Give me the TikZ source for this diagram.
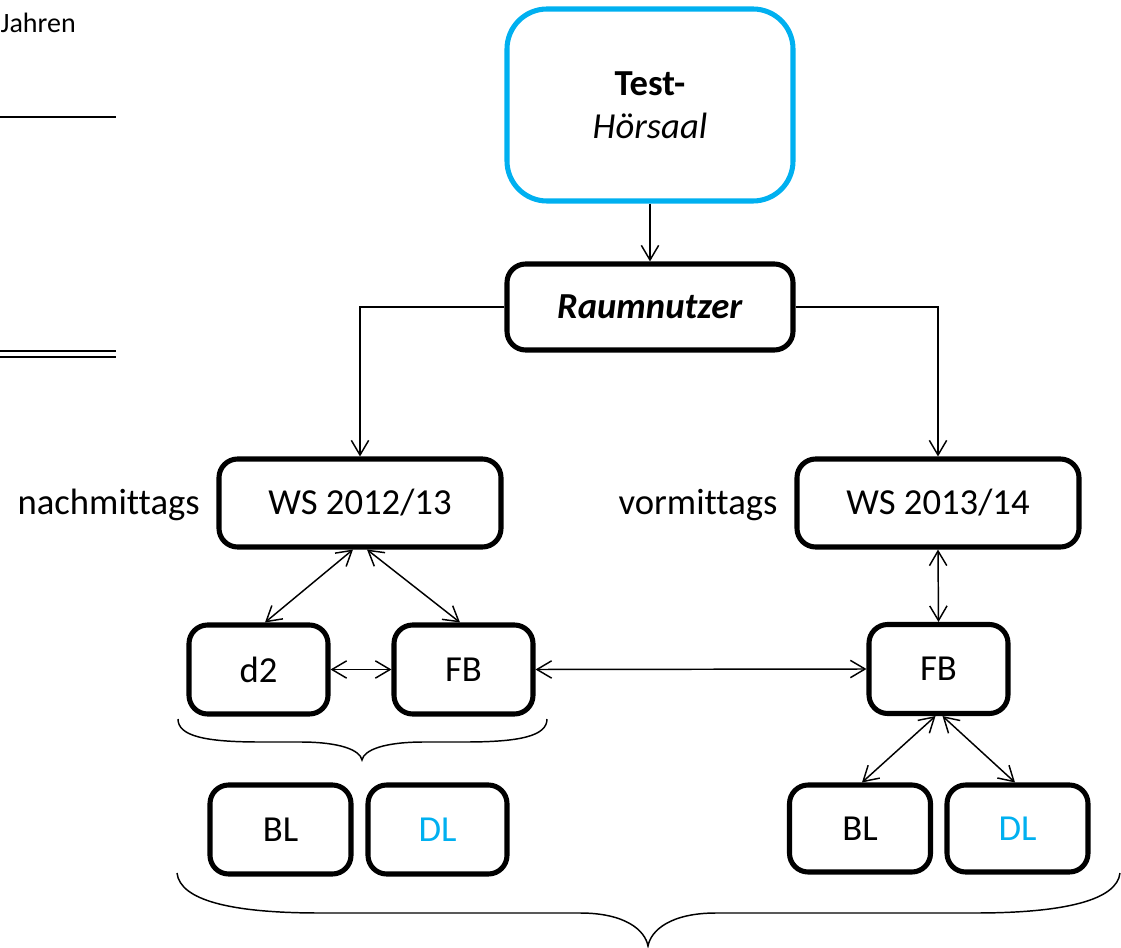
\documentclass[tikz,border=0pt]{standalone}
\usepackage{fontspec}
\setmainfont{Carlito}[Ligatures=NoCommon]
\usetikzlibrary{arrows.meta,calc}
\definecolor{cyanbox}{HTML}{00B0F0}
\def\u{0.75pt}
\begin{document}
\begin{tikzpicture}[x=0.75pt,y=-0.75pt,
  box/.style={draw=black,line width=3.8pt,rounded corners=14pt,fill=white,
    inner sep=0pt,font=\fontsize{27.5}{32}\selectfont,align=center},
  conn/.style={line width=1.1pt},
  tip/.style={-{Straight Barb[length=11pt,width=13pt]}},
  dtip/.style={{Straight Barb[length=11pt,width=13pt]}-{Straight Barb[length=11pt,width=13pt]}},
  lbl/.style={font=\fontsize{27.5}{32}\selectfont,inner sep=0pt},
  brace/.style={line width=1.1pt}]
\useasboundingbox (0,0) rectangle (1121,948);
% left fragments
\node[anchor=base east,inner sep=0pt,font=\fontsize{21}{25}\selectfont] (jahren) at (76,33) {Jahren};
\draw[line width=1.8pt] (0,117) -- (116,117);
\draw[line width=1.5pt] (0,351) -- (116,351);
\draw[line width=1.5pt] (0,357) -- (116,357);
% nodes
\node[box,draw=cyanbox,rounded corners=30pt,minimum width=286*\u,minimum height=192*\u] (test) at (650,105)
  {\textbf{Test-}\\\textit{Hörsaal}};
\node[box,minimum width=286*\u,minimum height=86*\u] (raum) at (650,307) {\textbf{\textit{Raumnutzer}}};
\node[box,minimum width=282*\u,minimum height=88*\u] (ws1) at (360,503) {WS 2012/13};
\node[box,minimum width=282*\u,minimum height=88*\u] (ws2) at (938,503) {WS 2013/14};
\node[box,minimum width=139*\u,minimum height=89*\u] (d2) at (258.5,669.5) {d2};
\node[box,minimum width=139*\u,minimum height=89*\u] (fb1) at (463.5,669.5) {FB};
\node[box,minimum width=139*\u,minimum height=89*\u] (fb2) at (938.5,669) {FB};
\node[box,minimum width=141*\u,minimum height=89*\u] (bl1) at (280.5,829.5) {BL};
\node[box,minimum width=139*\u,minimum height=89*\u] (dl1) at (437.5,829.5) {\textcolor{cyanbox}{DL}};
\node[box,minimum width=141*\u,minimum height=87*\u] (bl2) at (860,828.5) {BL};
\node[box,minimum width=141*\u,minimum height=87*\u] (dl2) at (1017.5,828.5) {\textcolor{cyanbox}{DL}};
\node[lbl,anchor=east] (nach) at (200,505) {nachmittags};
\node[lbl] (vor) at (698,505) {vormittags};
% connectors
\draw[conn,tip] (test.south) -- (raum.north);
\draw[conn,tip] (raum.west) -| (ws1.north);
\draw[conn,tip] (raum.east) -| (ws2.north);
\draw[conn,dtip] ($(ws1.south)+(-7,0)$) -- ($(d2.north)+(6.5,0)$);
\draw[conn,dtip] ($(ws1.south)+(7,0)$) -- ($(fb1.north)+(-3.5,0)$);
\draw[conn,dtip] (d2.east) -- (fb1.west);
\draw[conn,dtip] (fb1.east) -- (fb2.west);
\draw[conn,dtip] (ws2.south) -- (fb2.north);
\draw[conn,dtip] ($(fb2.south)+(-3,0)$) -- ($(bl2.north)+(2,0)$);
\draw[conn,dtip] ($(fb2.south)+(4,0)$) -- ($(dl2.north)+(-2.5,0)$);
% braces
\draw[brace] (178,719) .. controls (178,736) and (205,742) .. (260,742)
  -- (300,742) .. controls (340,742) and (360,750) .. (362,760)
  .. controls (364,750) and (384,742) .. (424,742) -- (465,742)
  .. controls (520,742) and (547,736) .. (547,719);
\draw[brace] (177,873) .. controls (180,900) and (230,913) .. (320,913)
  -- (580,913) .. controls (625,913) and (645,930) .. (648,946)
  .. controls (651,930) and (671,913) .. (716,913) -- (975,913)
  .. controls (1065,913) and (1117,900) .. (1120,873);
\end{tikzpicture}
\end{document}
